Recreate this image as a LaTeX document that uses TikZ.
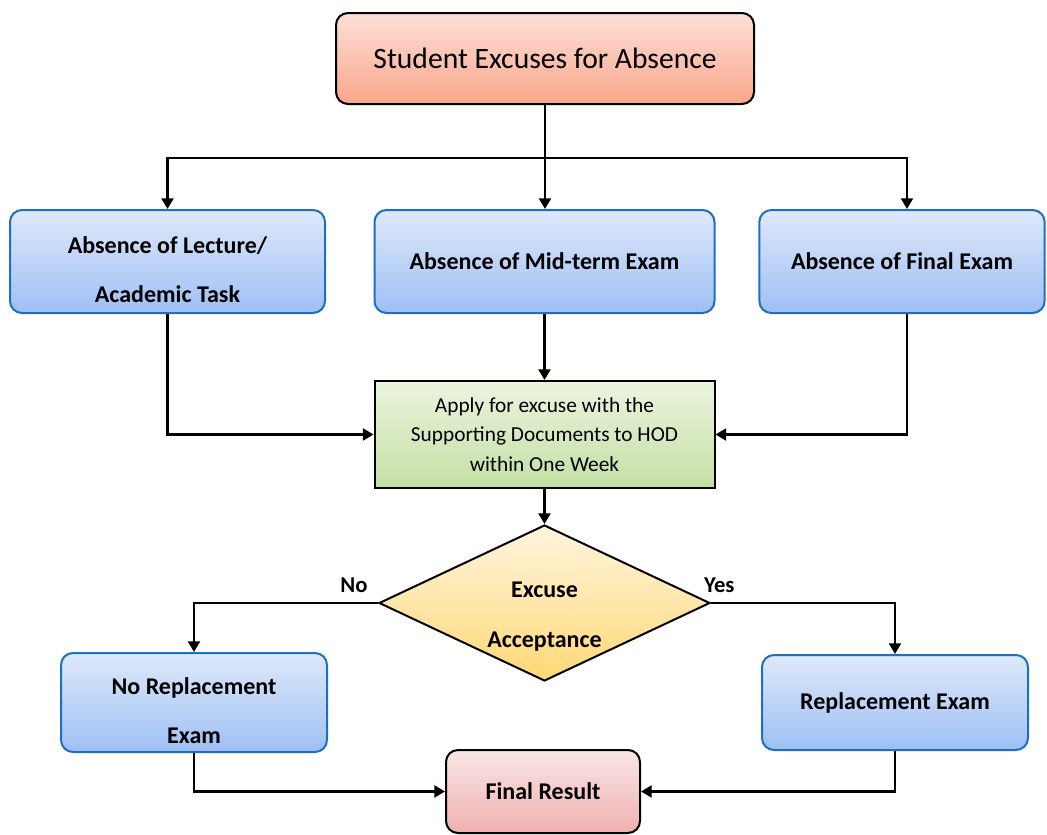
\documentclass[tikz,border=0pt]{standalone}
\usepackage{fontspec}
\setmainfont{Carlito}
\usepackage{tikz}
\usetikzlibrary{arrows.meta,shapes.geometric}

\definecolor{titletop}{RGB}{253,224,216}
\definecolor{titlebot}{RGB}{249,166,138}
\definecolor{bluetop}{RGB}{222,233,250}
\definecolor{bluebot}{RGB}{158,191,244}
\definecolor{blueline}{RGB}{30,112,190}
\definecolor{greentop}{RGB}{236,244,224}
\definecolor{greenbot}{RGB}{196,223,163}
\definecolor{yellowtop}{RGB}{255,244,222}
\definecolor{yellowbot}{RGB}{255,216,118}
\definecolor{pinktop}{RGB}{249,230,230}
\definecolor{pinkbot}{RGB}{239,176,176}

\begin{document}
\begin{tikzpicture}[x=0.75pt,y=-0.75pt,
    titlebox/.style={rectangle,rounded corners=9pt,draw=black,line width=1.5pt,
        top color=titletop,bottom color=titlebot,inner sep=0pt,
        font=\fontsize{22.2}{26}\selectfont},
    casebox/.style={rectangle,rounded corners=9pt,draw=blueline,line width=1.5pt,
        top color=bluetop,bottom color=bluebot,inner sep=0pt,align=center,
        font=\bfseries\fontsize{18}{36.5}\selectfont},
    twolines/.style={text height=61.5pt,text depth=0pt},
    stepbox/.style={rectangle,draw=black,line width=1.5pt,
        top color=greentop,bottom color=greenbot,inner sep=0pt,align=center,
        font=\fontsize{16}{22}\selectfont},
    decision/.style={diamond,aspect=2.12,draw=black,line width=1.5pt,
        top color=yellowtop,bottom color=yellowbot,inner sep=0pt,align=center,
        text height=67pt,text depth=0pt,
        font=\bfseries\fontsize{18}{37.5}\selectfont},
    resultbox/.style={rectangle,rounded corners=9pt,draw=black,line width=1.5pt,
        top color=pinktop,bottom color=pinkbot,inner sep=0pt,
        font=\bfseries\fontsize{18}{21}\selectfont},
    flow/.style={line width=1.6pt,-{Triangle[length=8pt,width=9pt]}},
    answer/.style={font=\bfseries\fontsize{17}{20}\selectfont,inner sep=2pt}]
      \useasboundingbox (0,0) rectangle (1047,835);
      \node[titlebox,minimum width=313.5pt,minimum height=68.25pt] (title) at (545,58.5) {Student Excuses for Absence};
      \node[casebox,twolines,minimum width=236.25pt,minimum height=77.25pt] (lecture) at (167.5,261.5) {Absence of Lecture/\\Academic Task};
      \node[casebox,minimum width=255pt,minimum height=77.25pt] (midterm) at (544.5,261.5) {Absence of Mid-term Exam};
      \node[casebox,minimum width=214pt,minimum height=77.25pt] (finalexam) at (902,261.5) {Absence of Final Exam};
      \node[stepbox,minimum width=255pt,minimum height=80.25pt] (apply) at (544.5,434.5) {Apply for excuse with the\\Supporting Documents to HOD\\within One Week};
      \node[decision,minimum width=248.25pt,minimum height=117pt] (accept) at (544.5,603) {Excuse\\Acceptance};
      \node[casebox,twolines,minimum width=199.5pt,minimum height=74.25pt] (norep) at (194,702.5) {No Replacement\\Exam};
      \node[casebox,minimum width=199.5pt,minimum height=71.25pt] (rep) at (895,702.5) {Replacement Exam};
      \node[resultbox,minimum width=145.5pt,minimum height=62.25pt] (result) at (543,791.5) {Final Result};
      \coordinate (split) at (545,158);

      % title to the three cases
      \draw[line width=1.6pt] (title.south) -- (split);
      \draw[flow] (split) -- (split |- midterm.north);
      \draw[flow] (split) -| (lecture.north);
      \draw[flow] (split) -| ([xshift=3.75pt]finalexam.north);
      % cases to the application
      \draw[flow] (lecture.south) |- (apply.west);
      \draw[flow] (midterm.south) -- (apply.north);
      \draw[flow] ([xshift=3.75pt]finalexam.south) |- (apply.east);
      \draw[flow] (apply.south) -- (accept.north);
      % decision
      \draw[flow] (accept.west) -| node[answer,pos=0,above left,xshift=-5pt,yshift=5pt] {No} (norep.north);
      \draw[flow] (accept.east) -| node[answer,pos=0,above right,xshift=-8pt,yshift=5pt] {Yes} (rep.north);
      % to the result
      \draw[flow] (norep.south) |- (result.west);
      \draw[flow] (rep.south) |- (result.east);
    \end{tikzpicture}
\end{document}
